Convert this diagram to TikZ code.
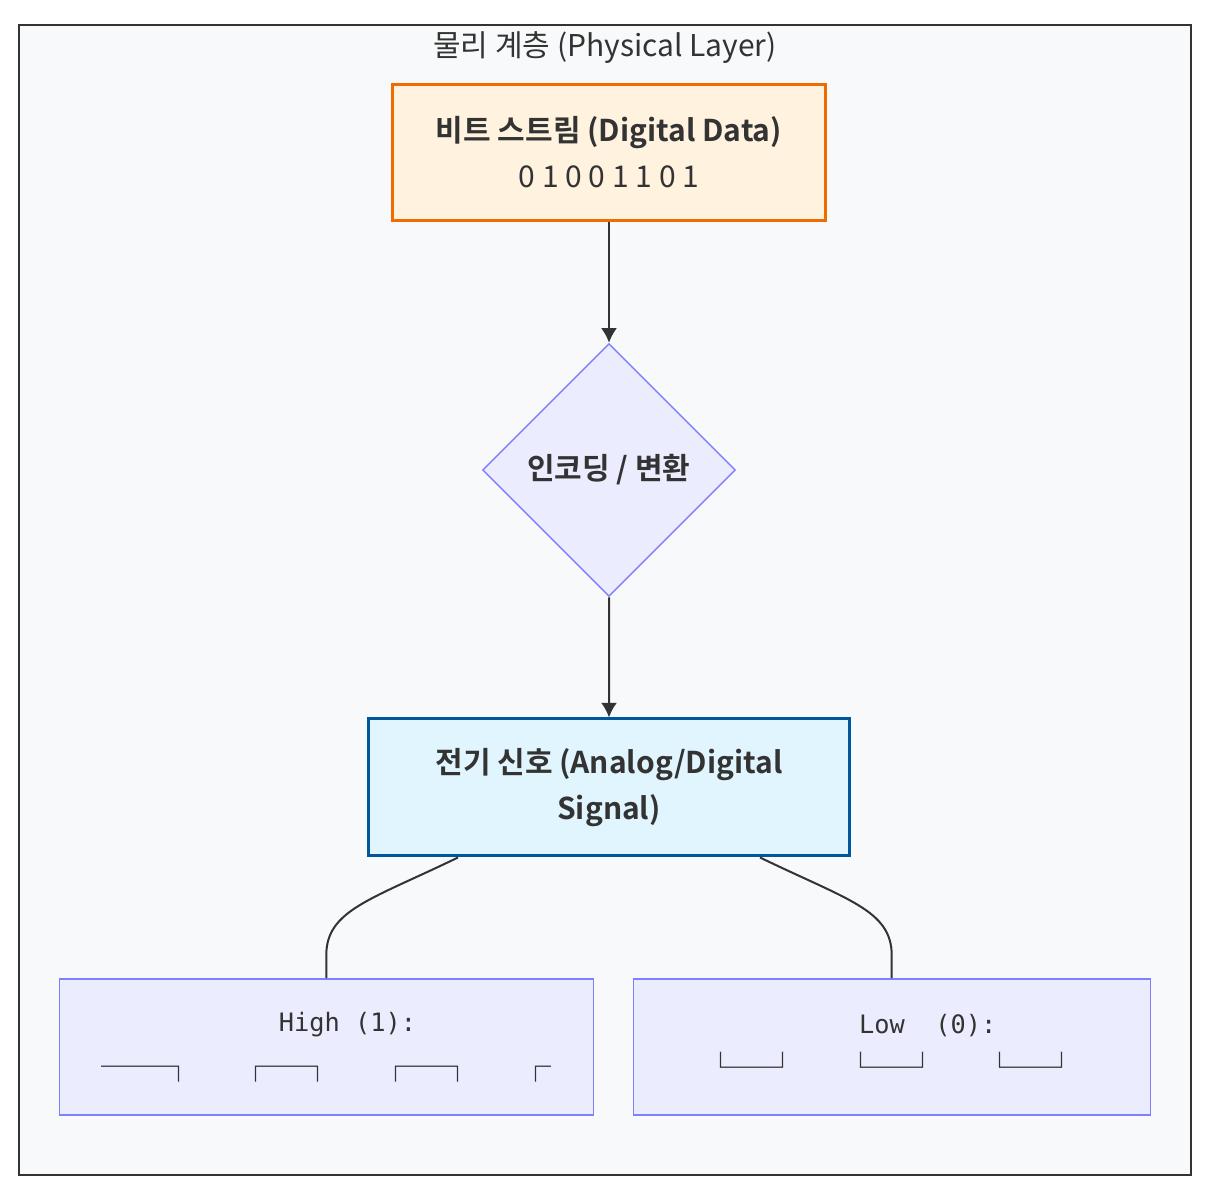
\documentclass[tikz,border=0pt]{standalone}
\usepackage{fontspec}
\setmainfont{Noto Sans CJK KR}[BoldFont={Noto Sans CJK KR Bold}]
\newfontfamily\monofont{DejaVu Sans Mono}
\newfontfamily\boxfont{Noto Sans CJK KR}
\usetikzlibrary{shapes.geometric, arrows.meta}

\definecolor{ink}{HTML}{333333}
\definecolor{layerfill}{HTML}{F8F9FA}
\definecolor{bitsfill}{HTML}{FFF3E0}
\definecolor{bitsline}{HTML}{EF6C00}
\definecolor{encfill}{HTML}{ECECFF}
\definecolor{encline}{HTML}{7F7FFF}
\definecolor{sigfill}{HTML}{E1F5FE}
\definecolor{sigline}{HTML}{01579B}

\newcommand{\gap}{\hspace{34.9pt}}
\newcommand{\wavefont}{\boxfont\fontsize{23.25}{35}\selectfont}
\newcommand{\codefont}{\monofont\fontsize{19}{35}\selectfont}

\begin{document}
\begin{tikzpicture}
	[every node/.style={draw, align = center, text=ink, font=\fontsize{22.5}{35}\selectfont},
	edge from parent/.style={draw, ink, line width=1.5pt, -{Latex[length=11pt, width=12pt]}},
	level 1/.style={level distance=238.5pt},
	level 2/.style={level distance=238.1pt},
	level 3/.style={level distance=194.6pt, sibling distance=424.1pt,
		edge from parent/.style={draw, ink, line width=1.5pt}},
	layer/.style={fill=layerfill, draw=ink, line width=1pt, minimum width=879pt, minimum height=862.5pt},
	bits/.style={fill=bitsfill, draw=bitsline, line width=2.25pt, minimum width=324pt, minimum height=102pt},
	encode/.style={diamond, aspect=1, fill=encfill, draw=encline, line width=1.1pt, inner sep=0pt,
		minimum width=189.75pt, minimum height=189.75pt},
	signal/.style={fill=sigfill, draw=sigline, line width=2.25pt, minimum width=360pt, minimum height=102.75pt},
	wave/.style={fill=encfill, draw=encline, line width=1.1pt, minimum height=102pt}]
	\useasboundingbox (-456.75pt,114pt) rectangle (455.25pt,-783.75pt);
	\node[layer] (layer) at (-3pt,-336pt) {};
	\node[draw=none] (title) at (-3pt,78pt) {물리 계층 (Physical Layer)};
	\node[bits] (bits) at (0,0) {\textbf{비트 스트림 (Digital Data)}\\0 1 0 0 1 1 0 1}
	child {node[encode] (encode) {\textbf{인코딩 / 변환}}
		child {node[signal] (signal) {\textbf{전기 신호 (Analog/Digital}\\\textbf{Signal)}}
			child[edge from parent path={(\tikzparentnode.south) ++(-113.25pt,0)
				.. controls +(-66pt,-32pt) and +(0,34pt) .. ([yshift=17pt]\tikzchildnode.north)
				-- (\tikzchildnode.north)}] {
				node[wave, minimum width=400.5pt] (high) {\hspace*{32pt}{\codefont High (1):}\\{\wavefont ──┐\gap┌─┐\gap┌─┐\gap┌}}
			}
			child[edge from parent path={(\tikzparentnode.south) ++(113.25pt,0)
				.. controls +(66pt,-32pt) and +(0,34pt) .. ([yshift=17pt]\tikzchildnode.north)
				-- (\tikzchildnode.north)}] {
				node[wave, minimum width=387.75pt] (low) {\hspace*{54pt}{\codefont Low\ \ (0):}\\{\wavefont └─┘\gap└─┘\gap└─┘}}
			}
		}
	};
\end{tikzpicture}
\end{document}
